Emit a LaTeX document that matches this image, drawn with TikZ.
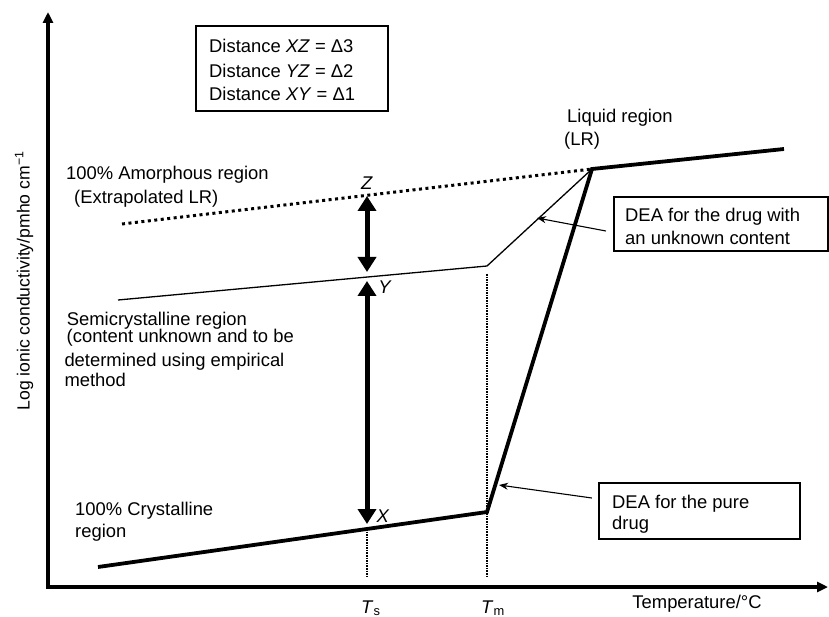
\documentclass[tikz,border=0pt]{standalone}
\usepackage{fontspec}
\setmainfont{Liberation Sans}
\usetikzlibrary{arrows.meta}

\begin{document}
\begin{tikzpicture}[
    x=1pt, y=-1pt,
    txt/.style={font=\fontsize{18.4}{22}\selectfont, inner sep=0pt, anchor=base west},
    axisline/.style={line width=3.6pt, line join=miter, {Triangle[length=11pt,width=10pt]}-{Triangle[length=11pt,width=10pt]}},
    thickline/.style={line width=3.8pt, line join=miter},
    thinline/.style={line width=1.3pt, line join=miter},
    dotline/.style={line width=3pt, dash pattern=on 3pt off 3.5pt},
    guide/.style={line width=1.6pt, dash pattern=on 1.6pt off 1pt},
    gaparrow/.style={line width=5pt, {Triangle[length=15pt,width=18pt]}-{Triangle[length=15pt,width=18pt]}},
    callout/.style={line width=1.1pt, -{Stealth[length=9pt,width=7pt]}},
    infobox/.style={draw, line width=2.2pt, inner sep=0pt}
]
\useasboundingbox (0,0) rectangle (829,617);

% axes
\coordinate (origin) at (48,587);
\coordinate (ytop) at (48,12);
\coordinate (xend) at (828,587);
\draw[axisline] (ytop) -- (origin) -- (xend);
\node[txt, anchor=center, rotate=90, font=\fontsize{17.6}{20}\selectfont] (ylab) at (24,281)
    {Log ionic conductivity/pmho cm\textsuperscript{−1}};
\node[txt, anchor=base] (xlab) at (697,608.7) {Temperature/°C};

% curve points
\coordinate (crysA) at (98,567);
\coordinate (kinkC) at (487,512);
\coordinate (meltL) at (592,169);
\coordinate (liqEnd) at (784,149);
\coordinate (semiA) at (118,300);
\coordinate (kinkS) at (487,266);
\coordinate (amorA) at (122,224);
\coordinate (ptX) at (367,529);
\coordinate (ptY) at (367,277);
\coordinate (ptZ) at (367,196);
\coordinate (tsFoot) at (367,578);
\coordinate (tmFoot) at (487,578);

\draw[dotline] (amorA) -- (meltL);
\draw[thinline] (semiA) -- (kinkS) -- (meltL);
\draw[thickline] (crysA) -- (kinkC) -- (meltL) -- (liqEnd);

% Ts and Tm guides
\draw[guide] (ptX) -- (tsFoot);
\draw[guide, shorten <=8pt] (kinkS) -- (tmFoot);
\node[txt] (lblTs) at (361,613) {\textit{T}\textsubscript{s}};
\node[txt] (lblTm) at (481,613) {\textit{T}\textsubscript{m}};

% distances
\draw[gaparrow, shorten >=5pt] (ptZ) -- (ptY);
\draw[gaparrow, shorten <=4pt, shorten >=5pt] (ptY) -- (ptX);
\node[txt, anchor=base] (lblZ) at (367,189.5) {\textit{Z}};
\node[txt, anchor=base] (lblY) at (385,293.5) {\textit{Y}};
\node[txt, anchor=base] (lblX) at (383,522.5) {\textit{X}};

% region labels
\node[txt] (amor1) at (66,179.5) {100\% Amorphous region};
\node[txt] (amor2) at (74,203.5) {(Extrapolated LR)};
\node[txt] (semi1) at (66.7,325) {Semicrystalline region};
\node[txt] (semi2) at (66.5,342.5) {(content unknown and to be};
\node[txt] (semi3) at (64.3,366) {determined using empirical};
\node[txt] (semi4) at (64.3,386.5) {method};
\node[txt] (crys1) at (75,515) {100\% Crystalline};
\node[txt] (crys2) at (75,537) {region};
\node[txt] (liq1) at (567,123) {Liquid region};
\node[txt] (liq2) at (564,146) {(LR)};

% distance box
\node[infobox, minimum width=192pt, minimum height=85pt] (distbox) at (292,68.5) {};
\node[txt] (dist1) at (209,52.7) {Distance \textit{XZ} = Δ3};
\node[txt] (dist2) at (209,77.3) {Distance \textit{YZ} = Δ2};
\node[txt] (dist3) at (209,101) {Distance \textit{XY} = Δ1};

% DEA boxes
\node[infobox, minimum width=214pt, minimum height=54pt] (dea1) at (721,224) {};
\node[txt] (dea1a) at (625,221.7) {DEA for the drug with};
\node[txt] (dea1b) at (625,244.3) {an unknown content};
\node[infobox, minimum width=201pt, minimum height=56pt] (dea2) at (699.5,511) {};
\node[txt] (dea2a) at (612,508.5) {DEA for the pure};
\node[txt] (dea2b) at (612,529.3) {drug};

\coordinate (tip1) at (537,218);
\coordinate (tip2) at (499,485);
\draw[callout] ([xshift=-7pt,yshift=-7pt]dea1.west) -- (tip1);
\draw[callout] ([xshift=-6pt,yshift=13pt]dea2.west) -- (tip2);

\end{tikzpicture}
\end{document}
